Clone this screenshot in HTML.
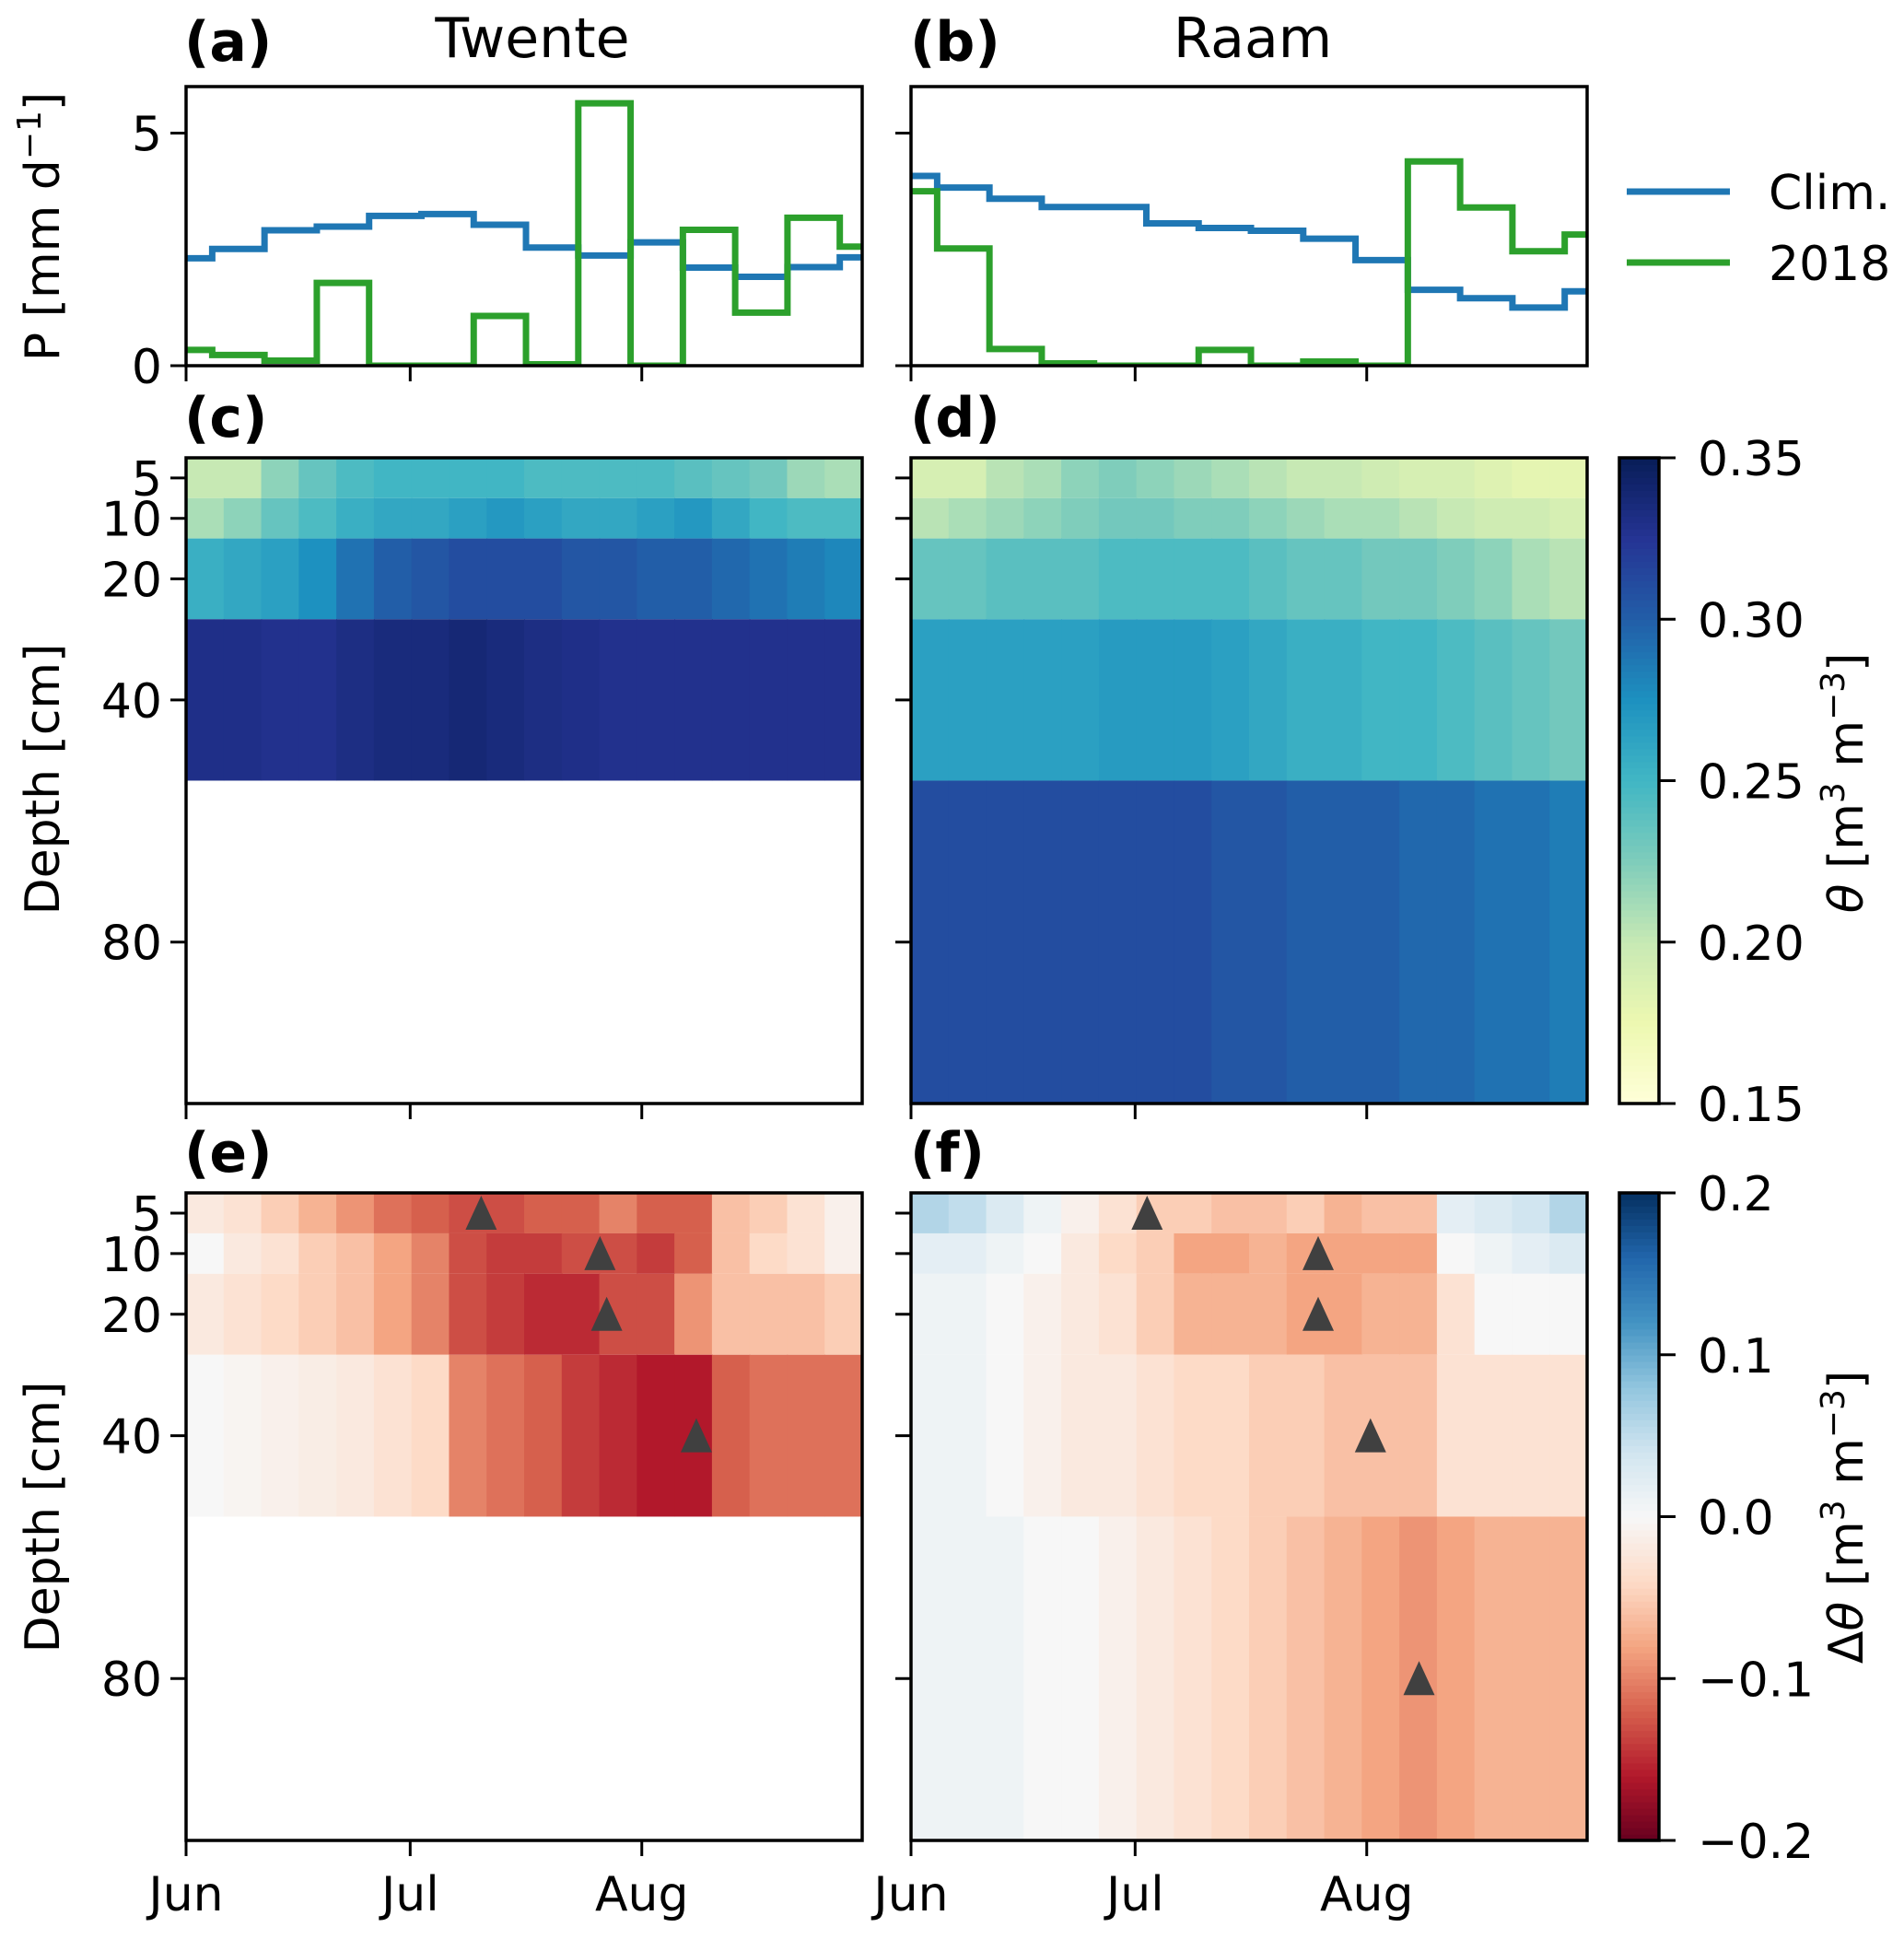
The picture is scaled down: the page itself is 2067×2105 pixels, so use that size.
<!DOCTYPE html>
<html><head><meta charset="utf-8"><style>
html,body{margin:0;padding:0;background:#fff}
svg{display:block}
text{font-family:"DejaVu Sans","Liberation Sans",sans-serif;fill:#000}
</style></head><body>
<svg id="fig" width="2067" height="2105" viewBox="0 0 2067 2105" xmlns="http://www.w3.org/2000/svg"></svg>
<script>
// ---- data ----
const stepEdgesDays = [0,3.5,10.5,17.5,24.5,31.5,38.5,45.5,52.5,59.5,66.5,73.5,80.5,87.5,90.5];
const twenteClim = [2.31,2.51,2.91,2.99,3.22,3.26,3.03,2.54,2.37,2.65,2.11,1.91,2.12,2.33];
const twente2018 = [0.34,0.23,0.11,1.78,0,0,1.07,0.03,5.64,0,2.92,1.14,3.18,2.56];
const raamClim = [4.08,3.83,3.59,3.41,3.41,3.06,2.96,2.90,2.73,2.27,1.63,1.45,1.25,1.60];
const raam2018 = [3.75,2.52,0.36,0.05,0,0,0.34,0,0.09,0,4.39,3.40,2.46,2.82];
const precipTicks = [0,5];
const depthLabels = ["5","10","20","40","80"];
const monthLabels = ["Jun","Jul","Aug"];
const monthDays = [0,30,61];
const thetaTicks = ["0.15","0.20","0.25","0.30","0.35"];
const deltaTicks = ["\u22120.2","\u22120.1","0.0","0.1","0.2"];
// theta per layer (18 five-day columns)
const twTheta5  = [0.20,0.20,0.22,0.235,0.245,0.25,0.25,0.25,0.25,0.245,0.245,0.245,0.245,0.24,0.235,0.23,0.215,0.21];
const twTheta10 = [0.21,0.22,0.235,0.245,0.255,0.26,0.26,0.265,0.27,0.265,0.26,0.26,0.265,0.27,0.26,0.25,0.245,0.245];
const twTheta20 = [0.255,0.26,0.265,0.275,0.29,0.30,0.305,0.31,0.31,0.31,0.305,0.305,0.30,0.30,0.295,0.29,0.285,0.28];
const twTheta40 = [0.33,0.33,0.328,0.328,0.332,0.335,0.335,0.338,0.335,0.332,0.33,0.328,0.328,0.328,0.328,0.328,0.328,0.328];
const raTheta5  = [0.19,0.19,0.205,0.21,0.22,0.225,0.22,0.215,0.21,0.205,0.20,0.20,0.195,0.19,0.19,0.185,0.18,0.18];
const raTheta10 = [0.205,0.21,0.215,0.22,0.225,0.23,0.23,0.225,0.225,0.22,0.215,0.21,0.21,0.205,0.20,0.195,0.195,0.19];
const raTheta20 = [0.235,0.235,0.24,0.24,0.24,0.245,0.245,0.245,0.245,0.24,0.235,0.235,0.23,0.23,0.225,0.22,0.21,0.205];
const raTheta40 = [0.265,0.265,0.265,0.265,0.265,0.268,0.268,0.268,0.265,0.26,0.255,0.255,0.25,0.25,0.245,0.24,0.235,0.23];
const raTheta80 = [0.31,0.31,0.31,0.31,0.31,0.31,0.31,0.31,0.305,0.305,0.30,0.30,0.30,0.295,0.295,0.29,0.29,0.285];
// anomalies
const twDelta5  = [-0.02,-0.03,-0.05,-0.07,-0.09,-0.11,-0.12,-0.13,-0.13,-0.12,-0.12,-0.10,-0.12,-0.12,-0.06,-0.05,-0.03,-0.01];
const twDelta10 = [0.0,-0.02,-0.03,-0.05,-0.06,-0.08,-0.10,-0.13,-0.14,-0.14,-0.13,-0.13,-0.14,-0.12,-0.06,-0.04,-0.03,-0.01];
const twDelta20 = [-0.02,-0.03,-0.04,-0.05,-0.06,-0.08,-0.10,-0.13,-0.14,-0.15,-0.15,-0.13,-0.13,-0.09,-0.06,-0.06,-0.06,-0.05];
const twDelta40 = [0.0,-0.005,-0.01,-0.015,-0.02,-0.03,-0.04,-0.10,-0.11,-0.12,-0.14,-0.15,-0.16,-0.16,-0.12,-0.11,-0.11,-0.11];
const raDelta5  = [0.06,0.05,0.03,0.01,-0.01,-0.03,-0.05,-0.05,-0.06,-0.06,-0.05,-0.07,-0.06,-0.06,0.02,0.03,0.04,0.06];
const raDelta10 = [0.02,0.02,0.01,0.00,-0.02,-0.04,-0.05,-0.08,-0.08,-0.07,-0.08,-0.08,-0.08,-0.08,0.0,0.01,0.02,0.03];
const raDelta20 = [0.01,0.01,0.0,-0.01,-0.02,-0.03,-0.05,-0.07,-0.07,-0.07,-0.08,-0.08,-0.07,-0.07,-0.03,0.0,0.0,0.0];
const raDelta40 = [0.01,0.01,0.0,-0.01,-0.02,-0.02,-0.03,-0.04,-0.04,-0.05,-0.05,-0.06,-0.06,-0.06,-0.03,-0.03,-0.03,-0.03];
const raDelta80 = [0.01,0.01,0.01,0.0,0.0,-0.01,-0.02,-0.03,-0.04,-0.05,-0.06,-0.07,-0.08,-0.09,-0.08,-0.07,-0.07,-0.07];
// minimum-anomaly day markers
const twMinDays = [39.5,55.4,56.3,68.3];
const raMinDays = [31.6,54.5,54.5,61.5,68];

// ---- layout ----
const NS="http://www.w3.org/2000/svg";
const svg=document.getElementById('fig');
const XL=202, XR=989, W=734, XMAX=90.5;
const rowA=[94,397], rowC=[497,1198], rowE=[1295,1998];
const DMAX=106.67, layerEdges=[0,6.67,13.33,26.67,53.33,106.67], layerCenters=[3.33,10,20,40,80];
function el(t,a,p){const e=document.createElementNS(NS,t);for(const k in a)e.setAttribute(k,a[k]);(p||svg).appendChild(e);return e;}
function xs(x0,d){return x0+d*W/XMAX;}
function ysP(r,v){return r[1]-v*(r[1]-r[0])/6.0;}
function ysD(r,d){return r[0]+d*(r[1]-r[0])/DMAX;}
function hex(h){return [parseInt(h.substr(1,2),16),parseInt(h.substr(3,2),16),parseInt(h.substr(5,2),16)];}
const ylgnbu=["#ffffd9","#edf8b1","#c7e9b4","#7fcdbb","#41b6c4","#1d91c0","#225ea8","#253494","#081d58"].map(hex);
const rdbu=["#67001f","#b2182b","#d6604d","#f4a582","#fddbc7","#f7f7f7","#d1e5f0","#92c5de","#4393c3","#2166ac","#053061"].map(hex);
function cmap(stops,t){t=Math.max(0,Math.min(1,t));const f=t*(stops.length-1);const i=Math.min(Math.floor(f),stops.length-2);const u=f-i;const a=stops[i],b=stops[i+1];return `rgb(${Math.round(a[0]+(b[0]-a[0])*u)},${Math.round(a[1]+(b[1]-a[1])*u)},${Math.round(a[2]+(b[2]-a[2])*u)})`;}
function txt(x,y,s,o){const t=el('text',Object.assign({x:x,y:y,'font-size':52},o||{}));t.textContent=s;return t;}

// ---- titles ----
let t;
t=txt(200,66,"(a)",{'font-weight':'bold','font-size':60});
t=txt(988,66,"(b)",{'font-weight':'bold','font-size':60});
t=txt(578,62,"Twente",{'text-anchor':'middle','font-size':60});
t=txt(1360,62,"Raam",{'text-anchor':'middle','font-size':60});
t=txt(200,474,"(c)",{'font-weight':'bold','font-size':60});
t=txt(988,474,"(d)",{'font-weight':'bold','font-size':60});
t=txt(200,1272,"(e)",{'font-weight':'bold','font-size':60});
t=txt(988,1272,"(f)",{'font-weight':'bold','font-size':60});

// ---- precip panels ----
function precip(x0,clim,y18,name,showLabels){
  const g=el('g',{});
  
  
  const cid='clip-'+name;
  const cp=el('clipPath',{id:cid},g);el('rect',{x:x0,y:rowA[0],width:W,height:rowA[1]-rowA[0]},cp);
  [[clim,'#1f77b4','clim'],[y18,'#2ca02c','2018']].forEach(([vals,col,nm])=>{
    let d='';
    vals.forEach((v,i)=>{const xa=xs(x0,stepEdgesDays[i]),xb=xs(x0,stepEdgesDays[i+1]),y=ysP(rowA,v);d+=(i?'L':'M')+xa+' '+y+'L'+xb+' '+y;});
    const p=el('path',{d:d,fill:'none',stroke:col,'stroke-width':7,'stroke-linejoin':'miter','clip-path':`url(#${cid})`},g);
    
    
  });
  el('rect',{x:x0,y:rowA[0],width:W,height:rowA[1]-rowA[0],fill:'none',stroke:'#000','stroke-width':3.5},g);
  precipTicks.forEach(v=>{const y=ysP(rowA,v);el('line',{x1:x0-17,x2:x0,y1:y,y2:y,stroke:'#000','stroke-width':3},g);
    if(showLabels){const tt=txt(x0-26,y+19,String(v),{'text-anchor':'end'});g.appendChild(tt);}});
  monthDays.forEach(d=>{const x=xs(x0,d);el('line',{x1:x,x2:x,y1:rowA[1],y2:rowA[1]+17,stroke:'#000','stroke-width':3},g);});
}
precip(XL,twenteClim,twente2018,'twente-precip',true);
precip(XR,raamClim,raam2018,'raam-precip',false);

// ---- heatmaps ----
function heat(x0,row,layers,stops,vmin,vmax,name,showLabels,showX,mins){
  const g=el('g',{});
  
  
  layers.forEach((vals,li)=>{
    if(!vals)return;
    const y0=ysD(row,layerEdges[li]),y1=ysD(row,layerEdges[li+1]);
    const n=vals.length;
    vals.forEach((v,i)=>{
      const xa=xs(x0,i*XMAX/n),xb=xs(x0,(i+1)*XMAX/n);
      const r=el('rect',{x:xa,y:y0,width:xb-xa+0.8,height:y1-y0,fill:cmap(stops,(v-vmin)/(vmax-vmin))},g);
      
      
    });
  });
  if(mins){mins.forEach((d,li)=>{const x=xs(x0,d),y=ysD(row,layerCenters[li]);
    const p=el('polygon',{points:`${x},${y-19} ${x-17},${y+18} ${x+17},${y+18}`,fill:'#404040'},g);
    
    });}
  el('rect',{x:x0,y:row[0],width:W,height:row[1]-row[0],fill:'none',stroke:'#000','stroke-width':3.5},g);
  layerCenters.forEach((c,i)=>{const y=ysD(row,c);el('line',{x1:x0-17,x2:x0,y1:y,y2:y,stroke:'#000','stroke-width':3},g);
    if(showLabels){const tt=txt(x0-26,y+19,depthLabels[i],{'text-anchor':'end'});g.appendChild(tt);}});
  monthDays.forEach((d,i)=>{const x=xs(x0,d);el('line',{x1:x,x2:x,y1:row[1],y2:row[1]+17,stroke:'#000','stroke-width':3},g);
    if(showX){const tt=txt(x,row[1]+76,monthLabels[i],{'text-anchor':'middle'});g.appendChild(tt);}});
}
heat(XL,rowC,[twTheta5,twTheta10,twTheta20,twTheta40,null],ylgnbu,0.15,0.35,'twente-theta-heatmap',true,false);
heat(XR,rowC,[raTheta5,raTheta10,raTheta20,raTheta40,raTheta80],ylgnbu,0.15,0.35,'raam-theta-heatmap',false,false);
heat(XL,rowE,[twDelta5,twDelta10,twDelta20,twDelta40,null],rdbu,-0.2,0.2,'twente-anomaly-heatmap',true,true,twMinDays);
heat(XR,rowE,[raDelta5,raDelta10,raDelta20,raDelta40,raDelta80],rdbu,-0.2,0.2,'raam-anomaly-heatmap',false,true,raMinDays);

// ---- colorbars ----
function cbar(row,stops,ticks,name){
  const g=el('g',{});
  
  
  const N=100,x0=1758,w=43,h=row[1]-row[0];
  for(let i=0;i<N;i++){el('rect',{x:x0,y:row[1]-(i+1)*h/N,width:w,height:h/N+0.8,fill:cmap(stops,(i+0.5)/N)},g);}
  el('rect',{x:x0,y:row[0],width:w,height:h,fill:'none',stroke:'#000','stroke-width':3.5},g);
  ticks.forEach((s,i)=>{const y=row[1]-i*h/(ticks.length-1);el('line',{x1:x0+w,x2:x0+w+18,y1:y,y2:y,stroke:'#000','stroke-width':3},g);
    const tt=txt(x0+w+42,y+19,s);g.appendChild(tt);});
}
cbar(rowC,ylgnbu,thetaTicks,'theta-colorbar');
cbar(rowE,rdbu,deltaTicks,'anomaly-colorbar');

// ---- axis labels ----
function vlabel(x,y,html,name){const tt=el('text',{x:0,y:0,'font-size':52,'text-anchor':'middle',transform:`translate(${x},${y}) rotate(-90)`});tt.innerHTML=html;}
vlabel(64,246,'P [mm d<tspan dy="-20" font-size="36">\u22121</tspan><tspan dy="20">]</tspan>','precip-y-axis-title');
vlabel(64,846,'Depth [cm]','depth-y-axis-title-c');
vlabel(64,1647,'Depth [cm]','depth-y-axis-title-e');
vlabel(2022,850,'<tspan font-style="italic">\u03b8</tspan> [m<tspan dy="-20" font-size="36">3</tspan><tspan dy="20"> m</tspan><tspan dy="-20" font-size="36">\u22123</tspan><tspan dy="20">]</tspan>','theta-colorbar-title');
vlabel(2022,1647,'\u0394<tspan font-style="italic">\u03b8</tspan> [m<tspan dy="-20" font-size="36">3</tspan><tspan dy="20"> m</tspan><tspan dy="-20" font-size="36">\u22123</tspan><tspan dy="20">]</tspan>','anomaly-colorbar-title');

// ---- legend ----
const lg=el('g',{});


el('line',{x1:1766,x2:1878,y1:208,y2:208,stroke:'#1f77b4','stroke-width':7},lg);
el('line',{x1:1766,x2:1878,y1:285,y2:285,stroke:'#2ca02c','stroke-width':7},lg);
t=txt(1920,227,"Clim.");lg.appendChild(t);
t=txt(1920,304,"2018");lg.appendChild(t);
</script>
</body></html>
